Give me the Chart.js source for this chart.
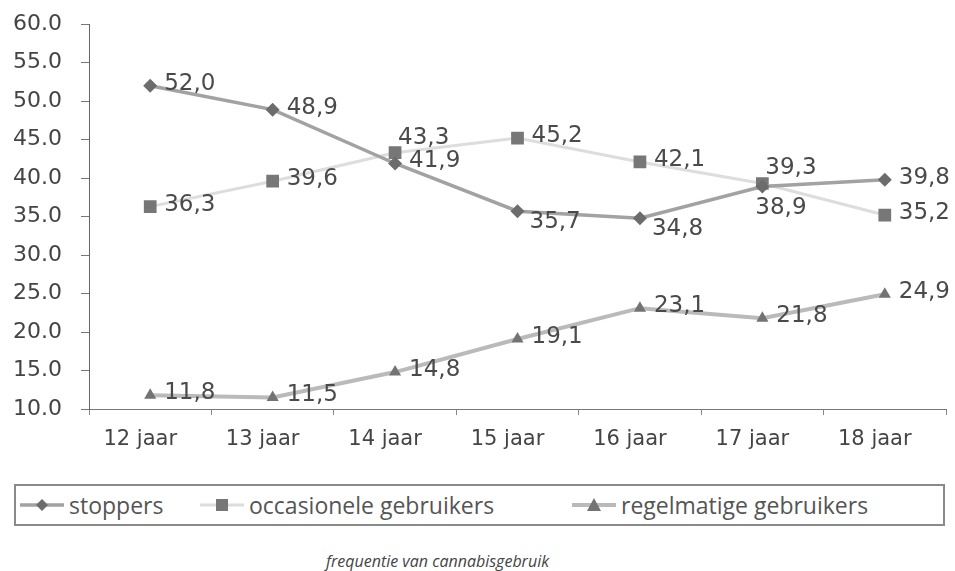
<!DOCTYPE html>
<html>
<head>
<meta charset="utf-8">
<script src="https://cdn.jsdelivr.net/npm/chart.js@4"></script>
<style>
  body { margin: 0; background: #fff; width: 955px; height: 571px; position: relative; overflow: hidden; }
  #wrap { position: absolute; left: 0; top: -8px; width: 955px; height: 483px; }
  #legend { position: absolute; left: 14px; top: 484px; width: 927px; height: 38px; border: 2px solid #8a8a8a;
            font-family: "Open Sans", sans-serif; font-size: 23px; color: #555; }
  .item { position: absolute; top: 4px; display: flex; align-items: center; height: 30px; }
  .item svg { margin-right: 5px; }
  #title { position: absolute; left: 0; width: 875px; top: 550px; text-align: center;
           font-family: "Open Sans", sans-serif; font-style: italic; font-size: 16px; color: #444; }
</style>
</head>
<body>
<div id="wrap"><canvas id="chart" width="955" height="483"></canvas></div>
<div id="legend"></div>
<div id="title">frequentie van cannabisgebruik</div>
<script>
var ages = ['12 jaar', '13 jaar', '14 jaar', '15 jaar', '16 jaar', '17 jaar', '18 jaar'];
var stoppers = [52.0, 48.9, 41.9, 35.7, 34.8, 38.9, 39.8];
var occasionele = [36.3, 39.6, 43.3, 45.2, 42.1, 39.3, 35.2];
var regelmatige = [11.8, 11.5, 14.8, 19.1, 23.1, 21.8, 24.9];
var yTicks = [10, 15, 20, 25, 30, 35, 40, 45, 50, 55, 60];

// where each value label sits relative to its point
var labelSpots = [
    ['right', 'right', 'right', 'belowRight', 'belowRight', 'below', 'right'],
    ['right', 'right', 'above', 'right', 'right', 'above', 'right'],
    ['right', 'right', 'right', 'right', 'right', 'right', 'right']
];
var spotOffsets = {
    right: [14, -2, 'left'],
    belowRight: [12, 11, 'left'],
    below: [-7, 21, 'left'],
    above: [3, -15, 'left']
};

var valueLabels = {
    id: 'valueLabels',
    afterDatasetsDraw: function (chart) {
        var ctx = chart.ctx;
        ctx.save();
        ctx.font = '23px "DejaVu Sans"';
        ctx.fillStyle = '#4a4a4a';
        ctx.textBaseline = 'middle';
        chart.data.datasets.forEach(function (ds, di) {
            chart.getDatasetMeta(di).data.forEach(function (pt, i) {
                var off = spotOffsets[labelSpots[di][i]];
                ctx.textAlign = off[2];
                ctx.fillText(ds.data[i].toFixed(1).replace('.', ','), pt.x + off[0], pt.y + off[1]);
            });
        });
        ctx.restore();
    }
};

var series = [
    { label: 'stoppers', data: stoppers, line: '#a2a2a2', mark: '#6c6c6c', style: 'rectRot', r: 7, w: 3.5 },
    { label: 'occasionele gebruikers', data: occasionele, line: '#dddddd', mark: '#777777', style: 'rect', r: 9, w: 3 },
    { label: 'regelmatige gebruikers', data: regelmatige, line: '#bababa', mark: '#737373', style: 'triangle', r: 7, w: 4 }
];

new Chart(document.getElementById('chart'), {
    type: 'line',
    data: {
        labels: ages,
        datasets: series.map(function (s) {
            return {
                label: s.label,
                data: s.data,
                borderColor: s.line,
                borderWidth: s.w,
                pointStyle: s.style,
                pointRadius: s.r,
                pointBackgroundColor: s.mark,
                pointBorderColor: s.mark,
                pointBorderWidth: 0,
                tension: 0
            };
        })
    },
    options: {
        responsive: false,
        animation: false,
        layout: { padding: { top: 4, left: 9, right: 7, bottom: 0 } },
        plugins: { legend: { display: false }, tooltip: { enabled: false } },
        scales: {
            x: {
                offset: true,
                grid: { offset: true, drawOnChartArea: false, tickLength: 6, color: '#888' },
                border: { color: '#777', width: 1 },
                ticks: { font: { family: 'DejaVu Sans', size: 21 }, color: '#444', padding: 12, labelOffset: -10 },
                afterFit: function (s) { s.height = 66; }
            },
            y: {
                min: 10,
                max: 60,
                afterBuildTicks: function (s) { s.ticks = yTicks.map(function (v) { return { value: v }; }); },
                grid: { drawOnChartArea: false, tickLength: 8, color: '#777' },
                border: { color: '#666', width: 1 },
                ticks: {
                    font: { family: 'DejaVu Sans', size: 22 }, color: '#444', padding: 19,
                    callback: function (v) { return v.toFixed(1); }
                },
                afterFit: function (s) { s.width = 80; }
            }
        }
    },
    plugins: [valueLabels]
});

// legend: line-marker-line swatch + text, spaced like the original
var legendLeft = [4, 184, 556];
function swatch(s) {
    var m;
    if (s.style === 'rectRot') m = '<polygon points="22,9 28,15 22,21 16,15" fill="' + s.mark + '"/>';
    else if (s.style === 'rect') m = '<rect x="16" y="9" width="12" height="12" fill="' + s.mark + '"/>';
    else m = '<polygon points="22,8 29,21 15,21" fill="' + s.mark + '"/>';
    return '<svg width="44" height="30"><line x1="0" y1="15" x2="44" y2="15" stroke="' + s.line + '" stroke-width="' + s.w + '"/>' + m + '</svg>';
}
document.getElementById('legend').innerHTML = series.map(function (s, i) {
    return '<div class="item" style="left:' + legendLeft[i] + 'px">' + swatch(s) + '<span>' + s.label + '</span></div>';
}).join('');
</script>
</body>
</html>
